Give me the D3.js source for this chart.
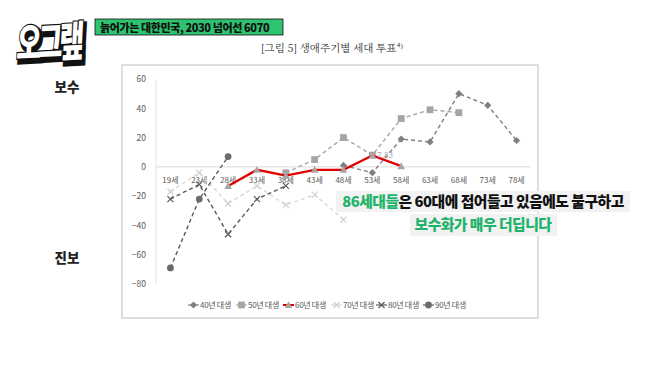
<!DOCTYPE html>
<html>
<head>
<meta charset="utf-8">
<script src="https://cdn.jsdelivr.net/npm/d3@7"></script>
<style>
  html, body { margin: 0; padding: 0; background: #fff; }
  svg { display: block; font-family: "Noto Sans CJK KR", "Noto Sans", sans-serif; }
</style>
</head>
<body>
<div id="container"></div>
<script>
// ages on the x axis
const ages = ["19세", "23세", "28세", "33세", "38세", "43세", "48세", "53세", "58세", "63세", "68세", "73세", "78세"];
const yTicks = [60, 40, 20, 0, -20, -40, -60, -80];

// one array per generation, null where there is no value
const s40 = [null, null, null, null, null, null, 1, -4, 19, 17, 50, 42, 18];
const s50 = [null, null, null, null, -4, 5, 20, 8, 33, 39, 37, null, null];
const s60 = [null, null, -13, -2, -6, -2, -2, 7.83, 0.5, null, null, null, null];
const s70 = [-17, -4, -25, -13, -26, -19, -36, null, null, null, null, null, null];
const s80 = [-22, -12, -46, -22, -13, null, null, null, null, null, null, null, null];
const s90 = [-69, -22, 7, null, null, null, null, null, null, null, null, null, null];

const seriesNames = ["40년 대생", "50년 대생", "60년 대생", "70년 대생", "80년 대생", "90년 대생"];

const width = 658, height = 370;

const svg = d3.select("#container").append("svg")
  .attr("width", width)
  .attr("height", height);

// series styles
const series = [
  {name: seriesNames[0], values: s40, color: "#7f7f7f", marker: "diamond", mcolor: "#7f7f7f", dash: "4,3", w: 1.4},
  {name: seriesNames[1], values: s50, color: "#a5a5a5", marker: "square", mcolor: "#a5a5a5", dash: "4,3", w: 1.4},
  {name: seriesNames[2], values: s60, color: "#e00000", marker: "triangle", mcolor: "#a5a5a5", dash: null, w: 2.3},
  {name: seriesNames[3], values: s70, color: "#d9d9d9", marker: "cross", mcolor: "#d0d0d0", dash: "4,3", w: 1.4},
  {name: seriesNames[4], values: s80, color: "#595959", marker: "cross", mcolor: "#595959", dash: "4,3", w: 1.4},
  {name: seriesNames[5], values: s90, color: "#595959", marker: "circle", mcolor: "#6b6b6b", dash: "4,3", w: 1.4}
];

// ---- header: logo, banner, caption
const logo = svg.append("g").attr("transform", "translate(16,59) rotate(-3) skewX(-6) scale(0.9,1.38)");
logo.append("text")
  .attr("x", 2.5).attr("y", 2.5)
  .attr("font-size", 30).attr("font-weight", 900)
  .attr("fill", "#111").attr("stroke", "#111").attr("stroke-width", 4)
  .attr("letter-spacing", -4)
  .text("오그랲");
logo.append("text")
  .attr("x", 0).attr("y", 0)
  .attr("font-size", 30).attr("font-weight", 900)
  .attr("fill", "#fff").attr("stroke", "#111").attr("stroke-width", 1.8)
  .attr("paint-order", "stroke")
  .attr("letter-spacing", -4)
  .text("오그랲");

svg.append("rect")
  .attr("x", 95).attr("y", 19).attr("width", 188).attr("height", 16)
  .attr("fill", "#2ec370").attr("stroke", "#111").attr("stroke-width", 0.8);
svg.append("text")
  .attr("x", 100).attr("y", 31.5)
  .attr("font-size", 11).attr("font-weight", 900)
  .attr("fill", "#111").attr("letter-spacing", -0.4)
  .text("늙어가는 대한민국, 2030 넘어선 6070");

svg.append("text")
  .attr("x", 332).attr("y", 52)
  .attr("text-anchor", "middle")
  .attr("font-size", 10.5).attr("fill", "#333")
  .attr("font-family", "'Noto Serif CJK KR', 'DejaVu Serif', serif")
  .text("[그림 5] 생애주기별 세대 투표⁴⁾");

// side labels
svg.append("text").attr("x", 67).attr("y", 92).attr("text-anchor", "middle")
  .attr("font-size", 13.5).attr("font-weight", 900).attr("fill", "#222").text("보수");
svg.append("text").attr("x", 67).attr("y", 263).attr("text-anchor", "middle")
  .attr("font-size", 13.5).attr("font-weight", 900).attr("fill", "#222").text("진보");

// ---- chart frame
svg.append("rect")
  .attr("x", 122).attr("y", 65).attr("width", 416).attr("height", 253)
  .attr("fill", "#fff").attr("stroke", "#d4d4d4").attr("stroke-width", 1.5);

const x = d3.scaleBand().domain(ages).range([156, 531]).padding(0);
const y = d3.scaleLinear().domain([-80, 60]).range([284, 79]);
const cx = d => x(d) + x.bandwidth() / 2;

// y axis line and labels
svg.append("line")
  .attr("x1", 156).attr("x2", 156).attr("y1", y(60)).attr("y2", y(-80))
  .attr("stroke", "#e3e3e3").attr("stroke-width", 1);

const yAxis = svg.append("g").attr("transform", "translate(156,0)")
  .call(d3.axisLeft(y).tickValues(yTicks).tickSize(0).tickPadding(10));
yAxis.select(".domain").remove();
yAxis.selectAll("text").attr("font-size", 8.5).attr("fill", "#595959")
  .attr("font-family", "'Noto Sans CJK KR', sans-serif");

// zero line + category labels
svg.append("line")
  .attr("x1", 156).attr("x2", 531).attr("y1", y(0)).attr("y2", y(0))
  .attr("stroke", "#d9d9d9").attr("stroke-width", 1);

const xAxis = svg.append("g").attr("transform", `translate(0,${y(0)})`)
  .call(d3.axisBottom(x).tickSize(0).tickPadding(10));
xAxis.select(".domain").remove();
xAxis.selectAll("text").attr("font-size", 8).attr("fill", "#595959")
  .attr("font-family", "'Noto Sans CJK KR', sans-serif");

// marker drawing
function drawMarker(g, type, color, px, py) {
  if (type == "diamond") {
    g.append("path").attr("d", `M${px},${py-3.6}L${px+3.6},${py}L${px},${py+3.6}L${px-3.6},${py}Z`).attr("fill", color);
  } else if (type == "square") {
    g.append("rect").attr("x", px-3.4).attr("y", py-3.4).attr("width", 6.8).attr("height", 6.8).attr("fill", color);
  } else if (type == "triangle") {
    g.append("path").attr("d", `M${px},${py-3.8}L${px+3.8},${py+3}L${px-3.8},${py+3}Z`).attr("fill", color);
  } else if (type == "circle") {
    g.append("circle").attr("cx", px).attr("cy", py).attr("r", 3.4).attr("fill", color);
  } else if (type == "cross") {
    g.append("path").attr("d", `M${px-3},${py-3}L${px+3},${py+3}M${px-3},${py+3}L${px+3},${py-3}`)
      .attr("stroke", color).attr("stroke-width", 1.2).attr("fill", "none");
  }
}

const line = d3.line()
  .defined(d => d.v != null)
  .x(d => cx(d.a))
  .y(d => y(d.v));

series.forEach(s => {
  const pts = ages.map((a, i) => ({a: a, v: s.values[i]}));
  const g = svg.append("g");
  g.append("path")
    .datum(pts)
    .attr("d", line)
    .attr("fill", "none")
    .attr("stroke", s.color)
    .attr("stroke-width", s.w)
    .attr("stroke-dasharray", s.dash);
  pts.filter(d => d.v != null).forEach(d => drawMarker(g, s.marker, s.mcolor, cx(d.a), y(d.v)));
});

// data label on the 60s series
svg.append("text")
  .attr("x", cx("53세") + 5).attr("y", y(7.83) + 3)
  .attr("font-size", 8).attr("fill", "#a5a5a5")
  .text("7.83");

// legend
const legendX = [188, 236, 283, 331, 376, 423];
series.forEach((s, i) => {
  const g = svg.append("g").attr("transform", `translate(${legendX[i]},305)`);
  g.append("line").attr("x1", 0).attr("x2", 11).attr("y1", 0).attr("y2", 0)
    .attr("stroke", s.color).attr("stroke-width", s.w > 2 ? 2 : 1.2);
  drawMarker(g, s.marker, s.mcolor, 5.5, 0);
  g.append("text").attr("x", 12).attr("y", 3)
    .attr("font-size", 8).attr("fill", "#595959").attr("letter-spacing", -0.3)
    .text(s.name);
});

// overlay caption
const cap1 = svg.append("g");
cap1.append("rect").attr("x", 336).attr("y", 191).attr("width", 294).attr("height", 21).attr("fill", "#f2f2f2");
const t1 = cap1.append("text").attr("x", 483).attr("y", 207).attr("text-anchor", "middle")
  .attr("font-size", 14.8).attr("font-weight", 900).attr("letter-spacing", -0.5);
t1.append("tspan").attr("fill", "#1fb46b").text("86세대들");
t1.append("tspan").attr("fill", "#111").text("은 60대에 접어들고 있음에도 불구하고");

const cap2 = svg.append("g");
cap2.append("rect").attr("x", 410).attr("y", 214).attr("width", 147).attr("height", 22).attr("fill", "#f2f2f2");
cap2.append("text").attr("x", 483).attr("y", 230).attr("text-anchor", "middle")
  .attr("font-size", 14.8).attr("font-weight", 900).attr("letter-spacing", -0.5)
  .attr("fill", "#1fb46b")
  .text("보수화가 매우 더딥니다");
</script>
</body>
</html>
